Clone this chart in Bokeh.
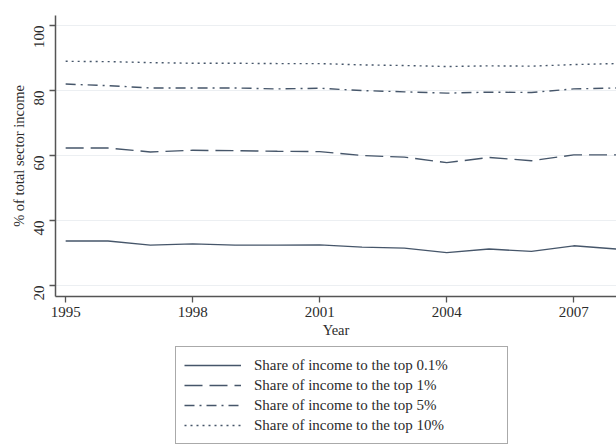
import math
from bokeh.plotting import figure
from bokeh.layouts import column
from bokeh.models import FixedTicker, Legend, LegendItem, Range1d
from bokeh.embed import file_html
from bokeh.resources import INLINE

years = [1995, 1996, 1997, 1998, 1999, 2000, 2001, 2002, 2003, 2004, 2005, 2006, 2007, 2008]
top01 = [33.7, 33.7, 32.4, 32.8, 32.4, 32.4, 32.5, 31.8, 31.5, 30.1, 31.2, 30.5, 32.2, 31.2]
top1 = [62.3, 62.3, 61.1, 61.6, 61.5, 61.3, 61.2, 60.0, 59.5, 57.8, 59.4, 58.4, 60.2, 60.2]
top5 = [82.0, 81.5, 80.8, 80.8, 80.8, 80.5, 80.7, 80.0, 79.6, 79.2, 79.5, 79.4, 80.5, 80.8]
top10 = [89.0, 88.9, 88.6, 88.4, 88.4, 88.3, 88.3, 87.9, 87.7, 87.4, 87.6, 87.5, 88.0, 88.3]
labels = ["Share of income to the top 0.1%", "Share of income to the top 1%",
          "Share of income to the top 5%", "Share of income to the top 10%"]
x_ticks = [1995, 1998, 2001, 2004, 2007]
y_ticks = [20, 40, 60, 80, 100]

FONT = "Liberation Serif"
LINE = "#46566a"
TXT = "#2b2b2b"
DASHES = ["solid", "18 7", "10 5 2 5", "2 4"]

p = figure(width=616, height=346, output_backend="svg", toolbar_location=None,
           x_range=Range1d(1994.76, 2008.01), y_range=Range1d(16.6, 103.1),
           min_border_left=55, min_border_right=0, min_border_top=15, min_border_bottom=50)
p.outline_line_color = None
p.background_fill_color = "white"
p.border_fill_color = "white"

for data, dash in zip([top01, top1, top5, top10], DASHES):
    p.line(years, data, line_color=LINE, line_width=1.4, line_dash=dash)

p.xaxis.ticker = FixedTicker(ticks=x_ticks)
p.yaxis.ticker = FixedTicker(ticks=y_ticks)
p.xaxis.axis_label = "Year"
p.yaxis.axis_label = "% of total sector income"
for ax in (p.xaxis, p.yaxis):
    ax.axis_line_color = "#555555"
    ax.axis_line_width = 1.5
    ax.major_tick_line_color = "#555555"
    ax.major_tick_line_width = 1.3
    ax.major_tick_out = 6
    ax.major_tick_in = 0
    ax.minor_tick_line_color = None
    ax.major_label_text_font = FONT
    ax.major_label_text_font_size = "15px"
    ax.major_label_text_color = TXT
    ax.axis_label_text_font = FONT
    ax.axis_label_text_font_size = "14.5px"
    ax.axis_label_text_font_style = "normal"
    ax.axis_label_text_color = TXT
p.yaxis.major_label_orientation = math.pi / 2
p.yaxis.major_label_standoff = 10
p.yaxis.axis_label_standoff = 0
p.xaxis.major_label_standoff = 4
p.xaxis.axis_label_standoff = 2

p.xgrid.grid_line_color = None
p.ygrid.grid_line_color = "#eceff2"
p.ygrid.grid_line_width = 1

# legend panel below the chart (its frame is aligned with the chart frame)
q = figure(width=616, height=99, output_backend="svg", toolbar_location=None,
           x_range=Range1d(0, 1), y_range=Range1d(0, 1),
           x_axis_location=None, y_axis_location=None,
           min_border_left=0, min_border_right=0, min_border_top=0, min_border_bottom=0)
q.outline_line_color = None
q.xgrid.grid_line_color = None
q.ygrid.grid_line_color = None
q.background_fill_color = "white"
q.border_fill_color = "white"
# legend-key renderers: same styles, placed outside the visible range
leg_renderers = [q.line([-10, -9], [-10, -9], line_color=LINE, line_width=1.4, line_dash=d)
                 for d in DASHES]

legend = Legend(items=[LegendItem(label=l, renderers=[r]) for l, r in zip(labels, leg_renderers)],
                location=(120, 1), orientation="vertical")
legend.border_line_color = "#555555"
legend.border_line_width = 1.5
legend.background_fill_color = "white"
legend.label_text_font = FONT
legend.label_text_font_size = "15px"
legend.label_text_color = TXT
legend.glyph_width = 57
legend.glyph_height = 20
legend.label_height = 20
legend.label_width = 245
legend.label_standoff = 13
legend.spacing = 0
legend.padding = 8
legend.margin = 0
q.add_layout(legend, "center")

layout = column(p, q, spacing=0)
open("out.html", "w").write(file_html(layout, INLINE))
